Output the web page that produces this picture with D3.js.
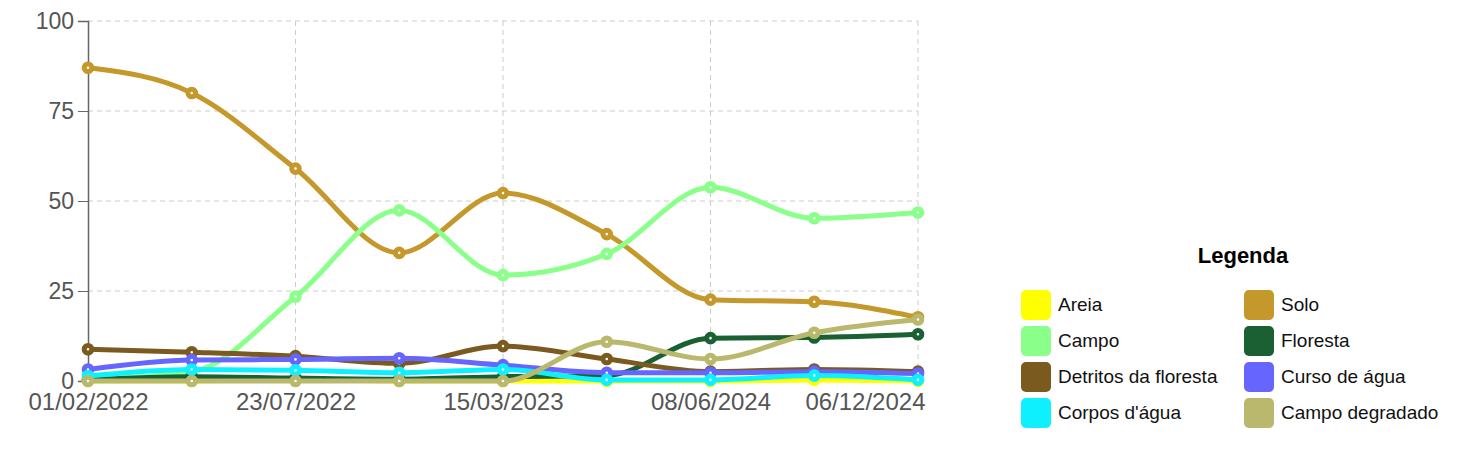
<!DOCTYPE html>
<html>
<head>
<meta charset="utf-8">
<script src="https://cdn.jsdelivr.net/npm/d3@7"></script>
<style>
  body { margin: 0; background: #fff; }
  svg { font-family: "Liberation Sans", Arial, sans-serif; }
</style>
</head>
<body>
<div id="chart"></div>
<script>
// observation dates (only some are labelled on the axis)
var obsLabels = ["01/02/2022", "", "23/07/2022", "", "15/03/2023", "", "08/06/2024", "", "06/12/2024"];
var yTicks = [0, 25, 50, 75, 100];

var seriesNames = ["Areia", "Solo", "Campo", "Floresta", "Detritos da floresta", "Curso de água", "Corpos d'água", "Campo degradado"];
var seriesColors = ["#ffff00", "#c4982a", "#8aff8a", "#1a6032", "#7a5a1e", "#6666ff", "#0ff0ff", "#b9b86c"];

var areia     = [0, 0, 0.5, 0, 0, 0, 0, 0.3, 0];
var solo      = [87, 80, 59, 35.6, 52.2, 40.8, 22.6, 22, 17.7];
var campo     = [0.5, 2.5, 23.4, 47.4, 29.4, 35.3, 53.8, 45.2, 46.8];
var floresta  = [0.3, 1.2, 0.8, 0.5, 1.2, 1.5, 11.9, 12.1, 13];
var detritos  = [8.8, 8, 6.9, 4.9, 9.7, 6.1, 2.6, 3.2, 2.6];
var curso     = [3.2, 5.8, 6, 6.3, 4.4, 2.3, 2.3, 2.6, 2.1];
var corpos    = [1.4, 3.2, 3, 2.3, 3.2, 0.3, 0.3, 1.5, 0.3];
var degradado = [0, 0, 0, 0, 0, 10.9, 6.1, 13.4, 17.1];

var seriesValues = [areia, solo, campo, floresta, detritos, curso, corpos, degradado];

var width = 1482, height = 464;
var svg = d3.select("#chart").append("svg")
    .attr("width", width)
    .attr("height", height);

var x = d3.scalePoint()
    .domain(d3.range(obsLabels.length))
    .range([88, 918]);

var y = d3.scaleLinear()
    .domain([0, 100])
    .range([381, 21]);

var labelled = x.domain().filter(function(i) { return obsLabels[i] !== ""; });

// grid
var grid = svg.append("g").attr("class", "grid");
grid.selectAll(".hg")
  .data(yTicks.filter(function(d) { return d > 0; }))
  .enter().append("line")
    .attr("x1", x.range()[0]).attr("x2", x.range()[1])
    .attr("y1", function(d) { return y(d); })
    .attr("y2", function(d) { return y(d); })
    .attr("stroke", "#cccccc")
    .attr("stroke-dasharray", "5,4");
grid.selectAll(".vg")
  .data(labelled.slice(1))
  .enter().append("line")
    .attr("x1", function(d) { return x(d); })
    .attr("x2", function(d) { return x(d); })
    .attr("y1", y(100)).attr("y2", y(0))
    .attr("stroke", "#cccccc")
    .attr("stroke-dasharray", "5,4");

// y axis
var yAxis = svg.append("g")
    .attr("transform", "translate(" + x.range()[0] + ",0)")
    .call(d3.axisLeft(y).tickValues(yTicks).tickSize(10).tickPadding(4));
yAxis.select(".domain").attr("stroke", "#666").attr("stroke-width", 1.5);
yAxis.selectAll(".tick line").attr("stroke", "#666");
yAxis.selectAll("text")
    .attr("fill", "#555")
    .style("font-size", "23px")
    .style("font-family", "Liberation Sans, Arial, sans-serif");

// x axis
var xAxis = svg.append("g")
    .attr("transform", "translate(0," + y(0) + ")")
    .call(d3.axisBottom(x).tickValues(labelled)
      .tickFormat(function(i) { return obsLabels[i]; })
      .tickSize(0).tickPadding(12));
xAxis.select(".domain").remove();
xAxis.selectAll("text")
    .attr("fill", "#555")
    .style("font-size", "24px")
    .style("font-family", "Liberation Sans, Arial, sans-serif");
xAxis.selectAll(".tick").filter(function(d) { return d === labelled[labelled.length - 1]; })
  .select("text")
    .attr("text-anchor", "end")
    .attr("x", 7);

// lines
var line = d3.line()
    .x(function(d, i) { return x(i); })
    .y(function(d) { return y(d); })
    .curve(d3.curveMonotoneX);

var series = svg.append("g").selectAll("g")
  .data(seriesValues)
  .enter().append("g");

series.append("path")
    .attr("d", line)
    .attr("fill", "none")
    .attr("stroke", function(d, i) { return seriesColors[i]; })
    .attr("stroke-width", 5);

series.each(function(vals, si) {
  d3.select(this).selectAll("circle")
    .data(vals)
    .enter().append("circle")
      .attr("cx", function(d, i) { return x(i); })
      .attr("cy", function(d) { return y(d); })
      .attr("r", 3.8)
      .attr("fill", "#fff")
      .attr("stroke", seriesColors[si])
      .attr("stroke-width", 5);
});

// legend
var legend = svg.append("g");
legend.append("text")
    .attr("x", 1243).attr("y", 263)
    .attr("text-anchor", "middle")
    .style("font-size", "22px")
    .style("font-weight", "bold")
    .text("Legenda");

var item = legend.selectAll(".item")
  .data(seriesNames)
  .enter().append("g")
    .attr("transform", function(d, i) {
      return "translate(" + (1021 + (i % 2) * 223) + "," + (290 + Math.floor(i / 2) * 36) + ")";
    });
item.append("rect")
    .attr("width", 30).attr("height", 30)
    .attr("rx", 5)
    .attr("fill", function(d, i) { return seriesColors[i]; });
item.append("text")
    .attr("x", 37).attr("y", 21)
    .style("font-size", "19px")
    .attr("fill", "#111")
    .text(function(d) { return d; });
</script>
</body>
</html>
